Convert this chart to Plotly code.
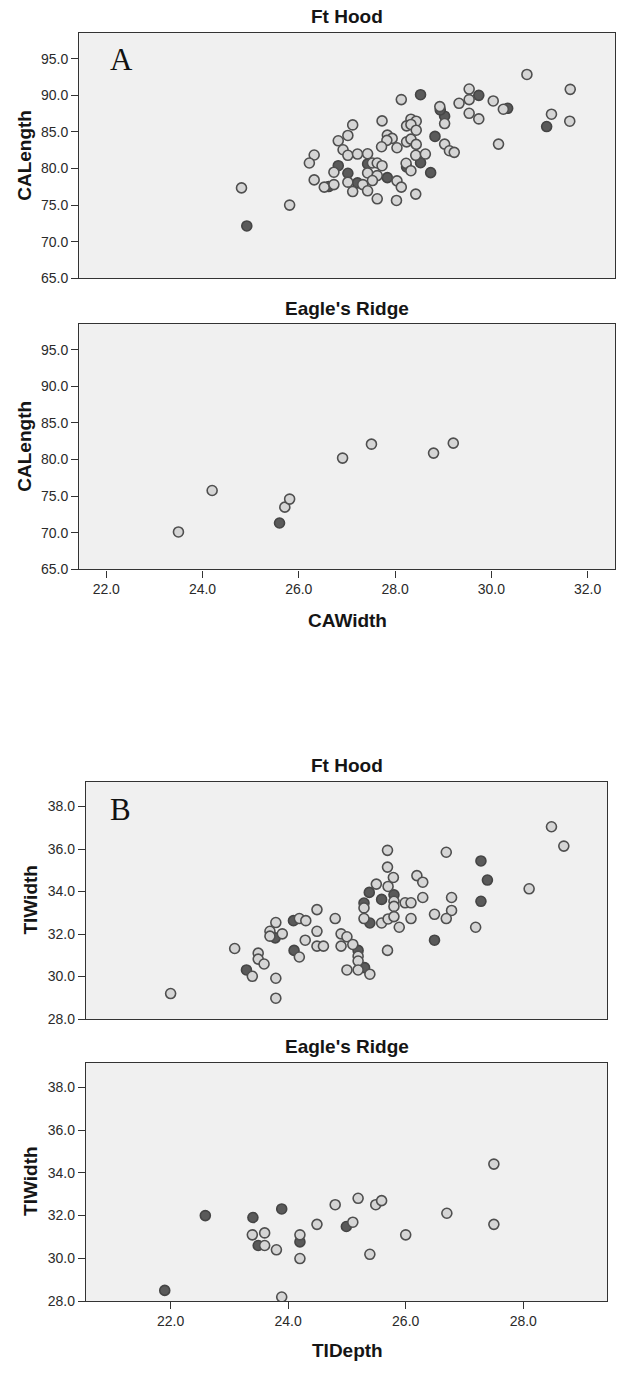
import plotly.graph_objects as go

# ---------------- Panel A : CAWidth vs CALength ----------------
# Ft Hood, open markers
fh_cawidth_open = [30.74, 28.13, 29.54, 29.54, 29.33, 30.04, 30.25, 28.93, 29.03, 29.54,
                   29.74, 27.73, 28.33, 28.44, 28.24, 28.33, 28.44, 27.12, 27.02, 27.84,
                   27.94, 27.83, 27.72, 28.04, 28.24, 28.33, 28.44, 29.03, 29.13, 29.23,
                   30.15, 26.82, 26.92, 27.02, 27.22, 27.43, 26.32, 26.22, 26.73, 27.53,
                   27.63, 27.73, 27.43, 27.63, 27.53, 26.32, 26.53, 26.73, 27.02, 27.33,
                   27.12, 27.43, 27.63, 28.03, 28.04, 28.13, 28.43, 28.23, 28.33, 28.43,
                   28.63, 24.81, 25.81, 31.64, 31.25, 31.63]
fh_calength_open = [92.85, 89.42, 90.86, 89.42, 88.91, 89.23, 88.10, 88.46, 86.15, 87.55,
                    86.78, 86.51, 86.74, 86.47, 85.83, 86.02, 85.24, 85.96, 84.52, 84.57,
                    84.12, 83.85, 82.98, 82.84, 83.65, 84.02, 83.30, 83.34, 82.43, 82.21,
                    83.34, 83.79, 82.57, 81.81, 81.98, 82.02, 81.85, 80.76, 79.50, 80.76,
                    80.76, 80.39, 79.40, 79.04, 78.36, 78.45, 77.46, 77.81, 78.14, 77.81,
                    76.86, 76.96, 75.87, 75.64, 78.32, 77.46, 76.51, 80.72, 79.71, 81.81,
                    81.98, 77.36, 75.01, 90.82, 87.42, 86.47]
# Ft Hood, filled markers
fh_cawidth_filled = [28.53, 29.74, 30.34, 29.03, 28.94, 28.83, 26.82, 27.02, 27.43, 27.84,
                     26.62, 27.22, 28.24, 28.53, 28.74, 24.92, 31.15]
fh_calength_filled = [90.09, 90.00, 88.23, 87.15, 88.00, 84.39, 80.39, 79.36, 80.63, 78.76,
                      77.54, 78.04, 80.22, 80.80, 79.44, 72.16, 85.74]

# Eagle's Ridge
er_cawidth_open = [23.50, 24.20, 25.71, 25.81, 26.91, 27.51, 28.80, 29.21]
er_calength_open = [70.11, 75.77, 73.50, 74.60, 80.20, 82.10, 80.88, 82.24]
er_cawidth_filled = [25.60]
er_calength_filled = [71.33]

# ---------------- Panel B : TIDepth vs TIWidth ----------------
fh_tidepth_open = [22.00, 23.09, 23.49, 23.49, 23.59, 23.39, 23.79, 23.79, 23.79, 23.69,
                   23.69, 23.90, 24.19, 24.30, 24.29, 24.19, 24.49, 24.49, 24.49, 25.69,
                   25.69, 26.69, 27.19, 25.79, 25.50, 25.70, 26.19, 26.29, 26.29, 25.29,
                   25.80, 25.80, 25.99, 26.09, 26.78, 26.78, 26.69, 26.49, 25.29, 25.59,
                   25.70, 25.80, 25.89, 26.09, 25.69, 24.80, 24.90, 25.00, 25.10, 24.90,
                   24.60, 25.19, 25.19, 25.00, 25.19, 25.39, 28.48, 28.69, 28.10]
fh_tiwidth_open = [29.20, 31.32, 31.10, 30.82, 30.59, 30.01, 29.92, 28.98, 32.54, 32.13,
                   31.90, 32.01, 32.73, 32.63, 31.71, 30.92, 33.15, 32.13, 31.43, 35.94,
                   35.15, 35.85, 32.32, 34.66, 34.35, 34.24, 34.75, 34.44, 33.72, 33.23,
                   33.54, 33.30, 33.47, 33.47, 33.72, 33.11, 32.73, 32.93, 32.73, 32.52,
                   32.71, 32.82, 32.32, 32.73, 31.23, 32.73, 32.01, 31.87, 31.51, 31.43,
                   31.43, 30.96, 30.73, 30.31, 30.31, 30.11, 37.05, 36.14, 34.13]
fh_tidepth_filled = [23.29, 23.78, 24.09, 24.10, 27.28, 27.39, 27.28, 25.38, 25.59, 25.80,
                     25.29, 25.39, 26.49, 25.19, 25.30]
fh_tiwidth_filled = [30.31, 31.82, 32.63, 31.23, 35.44, 34.54, 33.54, 33.96, 33.63, 33.85,
                     33.46, 32.52, 31.71, 31.23, 30.42]

er_tidepth_open = [23.39, 23.60, 23.60, 23.80, 23.89, 24.20, 24.20, 24.49, 24.80, 25.10,
                   25.19, 25.39, 25.49, 25.59, 26.00, 26.70, 27.50, 27.50]
er_tiwidth_open = [31.10, 31.19, 30.60, 30.40, 28.19, 31.10, 29.99, 31.59, 32.51, 31.69,
                   32.81, 30.19, 32.51, 32.70, 31.10, 32.11, 31.59, 34.41]
er_tidepth_filled = [21.90, 22.59, 23.40, 23.49, 23.89, 24.20, 24.99]
er_tiwidth_filled = [28.50, 32.00, 31.91, 30.60, 32.31, 30.77, 31.49]

# Axis ticks
ca_width_ticks = [22.0, 24.0, 26.0, 28.0, 30.0, 32.0]
ca_length_ticks = [65.0, 70.0, 75.0, 80.0, 85.0, 90.0, 95.0]
ti_depth_ticks = [22.0, 24.0, 26.0, 28.0]
ti_width_ticks = [28.0, 30.0, 32.0, 34.0, 36.0, 38.0]

# ---------------- figure geometry (pixels) ----------------
W, H = 617, 1374


def px_x(x):
    return x / W


def px_y(y):
    return 1 - y / H


OPEN = dict(size=10, color="#d5d5d5", line=dict(color="#4f4f4f", width=1.6))
FILLED = dict(size=10, color="#5a5a5a", line=dict(color="#454545", width=1.6))

fig = go.Figure()

panels = [
    # (xs_open, ys_open, xs_filled, ys_filled, axis suffix)
    (fh_cawidth_open, fh_calength_open, fh_cawidth_filled, fh_calength_filled, ""),
    (er_cawidth_open, er_calength_open, er_cawidth_filled, er_calength_filled, "2"),
    (fh_tidepth_open, fh_tiwidth_open, fh_tidepth_filled, fh_tiwidth_filled, "3"),
    (er_tidepth_open, er_tiwidth_open, er_tidepth_filled, er_tiwidth_filled, "4"),
]
for xo, yo, xf, yf, s in panels:
    fig.add_trace(go.Scatter(x=xf, y=yf, mode="markers", marker=FILLED,
                             xaxis="x" + s, yaxis="y" + s, showlegend=False))
    fig.add_trace(go.Scatter(x=xo, y=yo, mode="markers", marker=OPEN,
                             xaxis="x" + s, yaxis="y" + s, showlegend=False))

TICKFONT = dict(family="Liberation Sans, Arial, sans-serif", size=14, color="#2a2a2a")


def axis(rng, domain, ticks=None, labels=True, anchor=None):
    d = dict(range=rng, domain=domain, showgrid=False, zeroline=False,
             showline=True, linecolor="#333333", linewidth=1.4, mirror=True,
             tickfont=TICKFONT, fixedrange=True)
    if anchor:
        d["anchor"] = anchor
    if ticks is not None and labels:
        d.update(tickmode="array", tickvals=ticks,
                 ticktext=[f"{t:.1f}" for t in ticks],
                 ticks="outside", ticklen=7, tickwidth=1.2, tickcolor="#333333")
    else:
        d.update(showticklabels=False, ticks="")
    return d


ca_x_range = [21.44, 32.57]
ca_y_range = [65.0, 98.5]
ti_x_range = [20.56, 29.43]
ti_y_range = [28.0, 39.15]

xa_a = [px_x(79.3), px_x(615.0)]
xa_b = [px_x(86.0), px_x(607.3)]
ya1 = [px_y(280.0), px_y(33.3)]
ya2 = [px_y(572.7), px_y(326.0)]
yb1 = [px_y(1025.0), px_y(786.7)]
yb2 = [px_y(1308.7), px_y(1069.0)]

fig.update_layout(
    width=W, height=H,
    margin=dict(l=0, r=0, t=0, b=0),
    paper_bgcolor="white",
    plot_bgcolor="#f0f0f0",
    xaxis=axis(ca_x_range, xa_a, ca_width_ticks, labels=False, anchor="y"),
    yaxis=axis(ca_y_range, ya1, ca_length_ticks, anchor="x"),
    xaxis2=axis(ca_x_range, xa_a, ca_width_ticks, anchor="y2"),
    yaxis2=axis(ca_y_range, ya2, ca_length_ticks, anchor="x2"),
    xaxis3=axis(ti_x_range, xa_b, ti_depth_ticks, labels=False, anchor="y3"),
    yaxis3=axis(ti_y_range, yb1, ti_width_ticks, anchor="x3"),
    xaxis4=axis(ti_x_range, xa_b, ti_depth_ticks, anchor="y4"),
    yaxis4=axis(ti_y_range, yb2, ti_width_ticks, anchor="x4"),
)

BOLD = dict(family="Liberation Sans, Arial, sans-serif", size=19, color="#151515")
SERIF = dict(family="Liberation Serif, Times New Roman, serif", size=31, color="#111111")


def label(text, x, y, font, angle=0):
    fig.add_annotation(text=text, x=px_x(x), y=px_y(y), xref="paper", yref="paper",
                       showarrow=False, xanchor="center", yanchor="middle",
                       font=font, textangle=angle)


# panel titles
label("<b>Ft Hood</b>", 347, 17, BOLD)
label("<b>Eagle's Ridge</b>", 347, 310, BOLD)
label("<b>Ft Hood</b>", 347, 770, BOLD)
label("<b>Eagle's Ridge</b>", 347, 1053, BOLD)

# axis titles
label("<b>CALength</b>", 25, 156.7, BOLD, -90)
label("<b>CALength</b>", 25, 449.3, BOLD, -90)
label("<b>CAWidth</b>", 347, 624, BOLD)
label("<b>TIWidth</b>", 31, 905.8, BOLD, -90)
label("<b>TIWidth</b>", 31, 1188.8, BOLD, -90)
label("<b>TIDepth</b>", 347, 1358, BOLD)

# panel letters
label("A", 121.7, 60, SERIF)
label("B", 120, 814, SERIF)

fig.write_html("out.html")
